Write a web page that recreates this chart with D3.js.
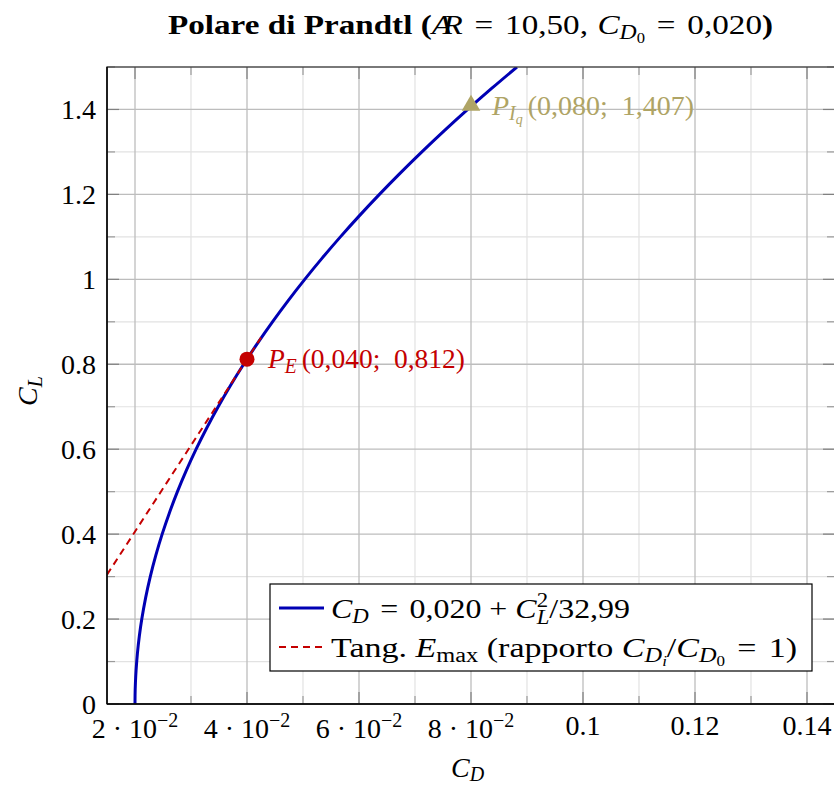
<!DOCTYPE html>
<html>
<head>
<meta charset="utf-8">
<script src="https://cdn.jsdelivr.net/npm/d3@7"></script>
<style>
body { margin: 0; background: #fff; }
text { font-family: "Liberation Serif", "DejaVu Serif", serif; }
</style>
</head>
<body>
<script>
// data
var CD0 = 0.020, K = 32.99;
var clSamples = [0, 0.02, 0.05, 0.08, 0.12, 0.16, 0.2, 0.25, 0.3, 0.35, 0.4, 0.45, 0.5, 0.55, 0.6, 0.65, 0.7, 0.75, 0.8,
  0.85, 0.9, 0.95, 1.0, 1.05, 1.1, 1.15, 1.2, 1.25, 1.3, 1.35, 1.4, 1.45, 1.5];
var tangentCD = [0.015, 0.0425];
var pointE = {cd: 0.040, cl: 0.812, label: "(0,040;\u00a0 0,812)"};
var pointI = {cd: 0.080, cl: 1.407, label: "(0,080;\u00a0 1,407)"};
var xTicks = [0.02, 0.04, 0.06, 0.08, 0.10, 0.12, 0.14];
var xTickLabels = [["2", "−2"], ["4", "−2"], ["6", "−2"], ["8", "−2"], ["0.1"], ["0.12"], ["0.14"]];
var xMinor = [0.03, 0.05, 0.07, 0.09, 0.11, 0.13];
var yTicks = [0, 0.2, 0.4, 0.6, 0.8, 1.0, 1.2, 1.4];
var yTickLabels = ["0", "0.2", "0.4", "0.6", "0.8", "1", "1.2", "1.4"];
var yMinor = [0.1, 0.3, 0.5, 0.7, 0.9, 1.1, 1.3, 1.5];

var W = 834, H = 785;
var pL = 107, pR = 835, pT = 67, pB = 704;
var svg = d3.select("body").append("svg").attr("width", W).attr("height", H);

var x = d3.scaleLinear().domain([0.015, 0.145]).range([pL, pR]);
var y = d3.scaleLinear().domain([0, 1.5]).range([pB, pT]);

var blue = "#0000b4", red = "#c40000", olive = "#afa465";
var fs = 28, fsS = 20, fsSS = 14;

var plot = svg.append("g");
plot.append("defs").append("clipPath").attr("id", "clip")
  .append("rect").attr("x", pL).attr("y", pT).attr("width", pR - pL).attr("height", pB - pT);

// minor grid
plot.selectAll(".gxm").data(xMinor).enter().append("line")
  .attr("x1", x).attr("x2", x).attr("y1", pT).attr("y2", pB)
  .attr("stroke", "#e2e2e2").attr("stroke-width", 1.2);
plot.selectAll(".gym").data(yMinor).enter().append("line")
  .attr("y1", y).attr("y2", y).attr("x1", pL).attr("x2", pR)
  .attr("stroke", "#e2e2e2").attr("stroke-width", 1.2);
// major grid
plot.selectAll(".gx").data(xTicks).enter().append("line")
  .attr("x1", x).attr("x2", x).attr("y1", pT).attr("y2", pB)
  .attr("stroke", "#bdbdbd").attr("stroke-width", 1.3);
plot.selectAll(".gy").data(yTicks).enter().append("line")
  .attr("y1", y).attr("y2", y).attr("x1", pL).attr("x2", pR)
  .attr("stroke", "#bdbdbd").attr("stroke-width", 1.3);

// tick marks (inside, all sides)
function ticksX(vals, len, col) {
  plot.selectAll(null).data(vals).enter().append("line")
    .attr("x1", x).attr("x2", x).attr("y1", pB).attr("y2", pB - len).attr("stroke", col).attr("stroke-width", 1.2);
  plot.selectAll(null).data(vals).enter().append("line")
    .attr("x1", x).attr("x2", x).attr("y1", pT).attr("y2", pT + len).attr("stroke", col).attr("stroke-width", 1.2);
}
function ticksY(vals, len, col) {
  plot.selectAll(null).data(vals).enter().append("line")
    .attr("y1", y).attr("y2", y).attr("x1", pL).attr("x2", pL + len).attr("stroke", col).attr("stroke-width", 1.2);
  plot.selectAll(null).data(vals).enter().append("line")
    .attr("y1", y).attr("y2", y).attr("x1", pR).attr("x2", pR - len).attr("stroke", col).attr("stroke-width", 1.2);
}
ticksX(xTicks, 12, "#808080"); ticksX(xMinor, 8, "#9a9a9a");
ticksY(yTicks, 12, "#808080"); ticksY(yMinor, 8, "#9a9a9a");

// curves
var line = d3.line().x(function(d){ return x(d[0]); }).y(function(d){ return y(d[1]); });
var polar = clSamples.map(function(cl){ return [CD0 + cl * cl / K, cl]; });
var slope = pointE.cl / pointE.cd;
var tangent = tangentCD.map(function(cd){ return [cd, cd * slope]; });

var g = plot.append("g").attr("clip-path", "url(#clip)");
g.append("path").datum(polar).attr("d", d3.line().curve(d3.curveCatmullRom)
    .x(function(d){ return x(d[0]); }).y(function(d){ return y(d[1]); }))
  .attr("fill", "none").attr("stroke", blue).attr("stroke-width", 3);
g.append("path").datum(tangent).attr("d", line).attr("fill", "none")
  .attr("stroke", red).attr("stroke-width", 2).attr("stroke-dasharray", "7,5");

// axis frame
plot.append("rect").attr("x", pL).attr("y", pT).attr("width", pR - pL).attr("height", pB - pT)
  .attr("fill", "none").attr("stroke", "#3a3a3a").attr("stroke-width", 1.3);
plot.append("line").attr("x1", pL).attr("x2", pR).attr("y1", pB).attr("y2", pB).attr("stroke", "#000").attr("stroke-width", 1.5);
plot.append("line").attr("x1", pL).attr("x2", pL).attr("y1", pT).attr("y2", pB).attr("stroke", "#000").attr("stroke-width", 1.5);

// points
plot.append("circle").attr("cx", x(pointE.cd)).attr("cy", y(pointE.cl)).attr("r", 7.5).attr("fill", red);
plot.append("path").attr("d", d3.symbol().type(d3.symbolTriangle).size(150)())
  .attr("transform", "translate(" + x(pointI.cd) + "," + (y(pointI.cl) - 1) + ")").attr("fill", olive);

// math-ish text helper: parts = [text, opts]
function mtext(sel, parts) {
  var cur = 0;
  parts.forEach(function(p) {
    var o = p[1] || {};
    var ts = sel.append("tspan").text(p[0]);
    if (o.i) ts.attr("font-style", "italic");
    if (o.b) ts.attr("font-weight", "bold");
    if (o.s) ts.attr("font-size", o.s);
    if (o.dx) ts.attr("dx", o.dx);
    var lvl = o.v || 0;
    if (lvl !== cur) { ts.attr("dy", lvl - cur); cur = lvl; }
  });
  return sel;
}

var tE = svg.append("text").attr("x", x(pointE.cd) + 21).attr("y", y(pointE.cl) + 9).attr("font-size", fs).attr("fill", red);
mtext(tE, [["P", {i: 1}], ["E", {i: 1, s: fsS, v: 5}], [pointE.label, {dx: 5}]]);
tE.attr("textLength", 197).attr("lengthAdjust", "spacingAndGlyphs");

var tI = svg.append("text").attr("x", x(pointI.cd) + 21).attr("y", y(pointI.cl) + 9).attr("font-size", fs).attr("fill", olive);
mtext(tI, [["P", {i: 1}], ["I", {i: 1, s: fsS, v: 5}], ["q", {i: 1, s: fsSS, v: 9}], [pointI.label, {dx: 5}]]);
tI.attr("textLength", 202).attr("lengthAdjust", "spacingAndGlyphs");

// tick labels
svg.selectAll(".xl").data(xTicks).enter().append("text")
  .attr("x", x).attr("y", 738).attr("text-anchor", "middle").attr("font-size", fs)
  .each(function(d, i) {
    var t = d3.select(this), lab = xTickLabels[i];
    if (lab.length === 1) { t.attr("y", 735).text(lab[0]); return; }
    mtext(t, [[lab[0]], ["·", {dx: 7}], ["10", {dx: 7}], [lab[1], {s: fsS, v: -11}]]);
  });
svg.selectAll(".yl").data(yTicks).enter().append("text")
  .attr("x", pL - 11).attr("y", function(d){ return y(d) + 10; }).attr("text-anchor", "end").attr("font-size", fs)
  .text(function(d, i){ return yTickLabels[i]; });

// axis labels
var xl = svg.append("text").attr("x", 451).attr("y", 777).attr("font-size", fs);
mtext(xl, [["C", {i: 1}], ["D", {i: 1, s: fsS, v: 4}]]);
var yl = svg.append("text").attr("transform", "translate(37,406) rotate(-90)").attr("font-size", fs);
mtext(yl, [["C", {i: 1}], ["L", {i: 1, s: fsS, v: 5}]]);

// title
var tt = svg.append("text").attr("x", 168).attr("y", 34).attr("font-size", fs);
mtext(tt, [["Polare di Prandtl (", {b: 1}], ["A", {i: 1}], ["R", {i: 1, dx: -8}], ["=", {dx: 10}], ["10,50,", {dx: 10}],
  ["C", {i: 1, dx: 8}], ["D", {i: 1, s: fsS, v: 5}], ["0", {s: fsSS, v: 9}], ["=", {dx: 10}], ["0,020", {dx: 10}],
  [")", {b: 1}]]);
tt.attr("textLength", 605).attr("lengthAdjust", "spacingAndGlyphs");

// legend
var lg = svg.append("g");
lg.append("rect").attr("x", 270).attr("y", 584).attr("width", 542).attr("height", 87)
  .attr("fill", "#fff").attr("stroke", "#000").attr("stroke-width", 1.2);
lg.append("line").attr("x1", 279).attr("x2", 324).attr("y1", 608).attr("y2", 608).attr("stroke", blue).attr("stroke-width", 3);
lg.append("line").attr("x1", 279).attr("x2", 324).attr("y1", 647).attr("y2", 647).attr("stroke", red).attr("stroke-width", 2).attr("stroke-dasharray", "7,5");
var l1 = lg.append("text").attr("x", 331).attr("y", 618).attr("font-size", fs);
mtext(l1, [["C", {i: 1}], ["D", {i: 1, s: fsS, v: 5}], ["=", {dx: 10}], ["0,020", {dx: 10}], ["+", {dx: 7}],
  ["C", {i: 1, dx: 7}], ["2", {s: fsS, v: -11}], ["L", {i: 1, s: fsS, v: 6, dx: -10}], ["/32,99", {v: 0}]]);
l1.attr("textLength", 299).attr("lengthAdjust", "spacingAndGlyphs");
var l2 = lg.append("text").attr("x", 331).attr("y", 657).attr("font-size", fs);
mtext(l2, [["Tang. "], ["E", {i: 1}], ["max", {s: fsS, v: 5}], [" (rapporto ", {v: 0}], ["C", {i: 1}],
  ["D", {i: 1, s: fsS, v: 5}], ["i", {i: 1, s: fsSS, v: 9}], ["/", {v: 0}], ["C", {i: 1}], ["D", {i: 1, s: fsS, v: 5}],
  ["0", {s: fsSS, v: 9}], ["=", {dx: 10, v: 0}], ["1)", {dx: 10}]]);
l2.attr("textLength", 466).attr("lengthAdjust", "spacingAndGlyphs");
</script>
</body>
</html>
